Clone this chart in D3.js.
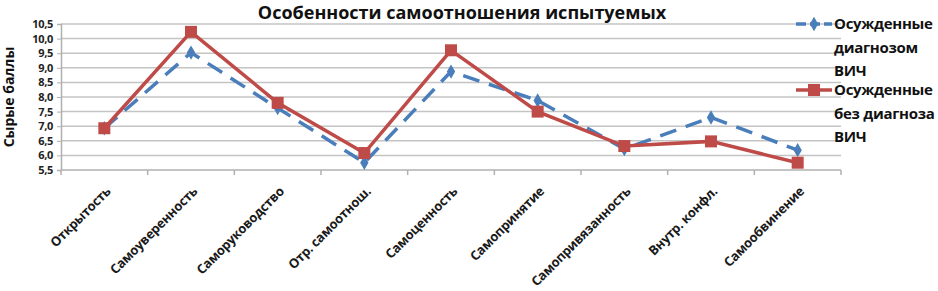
<!DOCTYPE html>
<html>
<head>
<meta charset="utf-8">
<script src="https://cdn.jsdelivr.net/npm/d3@7"></script>
<style>
  body { margin: 0; background: #fff; }
  text { font-family: "Open Sans", "Noto Sans", sans-serif; }
</style>
</head>
<body>
<svg id="chart" width="938" height="291"></svg>
<script>
const categories = [
  'Открытость', 'Самоуверенность', 'Саморуководство', 'Отр. самоотнош.',
  'Самоценность', 'Самопринятие', 'Самопривязанность', 'Внутр. конфл.', 'Самообвинение'
]
const hivValues = [6.93, 9.52, 7.62, 5.75, 8.87, 7.88, 6.22, 7.3, 6.18]
const noHivValues = [6.93, 10.23, 7.8, 6.08, 9.6, 7.5, 6.32, 6.48, 5.75]
const yTicks = [5.5, 6, 6.5, 7, 7.5, 8, 8.5, 9, 9.5, 10, 10.5]
const seriesNames = [
  ['Осужденные', 'диагнозом', 'ВИЧ'],
  ['Осужденные', 'без диагноза', 'ВИЧ']
]

const margin = { left: 61, right: 97, top: 24, bottom: 121 }
const width = 938 - margin.left - margin.right
const height = 291 - margin.top - margin.bottom

const svg = d3.select('#chart')
const g = svg.append('g').attr('transform', `translate(${margin.left},${margin.top})`)

const x = d3.scaleBand().domain(categories).range([0, width])
const y = d3.scaleLinear().domain([5.5, 10.5]).range([height, 0])

// horizontal grid
g.append('g')
  .selectAll('line')
  .data(yTicks.slice(1))
  .enter()
  .append('line')
  .attr('x1', 0)
  .attr('x2', width)
  .attr('y1', (d) => y(d))
  .attr('y2', (d) => y(d))
  .attr('stroke', '#c4c4c4')
  .attr('stroke-width', 1.5)

// y axis
const yAxis = g.append('g')
  .call(d3.axisLeft(y).tickValues(yTicks).tickSize(4).tickFormat((d) => d3.format('.1f')(d).replace('.', ',')))
yAxis.select('.domain').attr('stroke', '#b0b0b0').attr('stroke-width', 1.5)
yAxis.selectAll('line').attr('stroke', '#b0b0b0')
yAxis.selectAll('text')
  .attr('x', -8)
  .attr('font-size', '11px')
  .attr('font-weight', 'bold')
  .attr('fill', '#222')
  .attr('letter-spacing', '-0.3px')

// x axis with ticks at category boundaries
const xg = g.append('g').attr('transform', `translate(0,${height})`)
xg.append('line').attr('x1', 0).attr('x2', width).attr('stroke', '#b0b0b0').attr('stroke-width', 1.5)
xg.selectAll('.tick')
  .data(d3.range(categories.length + 1))
  .enter()
  .append('line')
  .attr('x1', (i) => i * x.bandwidth())
  .attr('x2', (i) => i * x.bandwidth())
  .attr('y1', 0)
  .attr('y2', 5)
  .attr('stroke', '#b0b0b0')
  .attr('stroke-width', 1.5)
xg.selectAll('.lbl')
  .data(categories)
  .enter()
  .append('text')
  .attr('transform', (d) => `translate(${x(d) + x.bandwidth() / 2 + 4},${19}) rotate(-45)`)
  .attr('text-anchor', 'end')
  .attr('dy', '0.35em')
  .attr('font-size', '13px')
  .attr('font-weight', 'bold')
  .attr('fill', '#1a1a1a')
  .attr('letter-spacing', '-0.3px')
  .text((d) => d)

const cx = (i) => x(categories[i]) + x.bandwidth() / 2
const line = d3.line().x((d, i) => cx(i)).y((d) => y(d))

// series: blue dashed with diamonds
g.append('path')
  .attr('d', line(hivValues))
  .attr('fill', 'none')
  .attr('stroke', '#4a7ebb')
  .attr('stroke-width', 3.5)
  .attr('stroke-dasharray', '17,10')
g.selectAll('.dia')
  .data(hivValues)
  .enter()
  .append('path')
  .attr('d', d3.symbol(d3.symbolDiamond, 60))
  .attr('transform', (d, i) => `translate(${cx(i)},${y(d)})`)
  .attr('fill', '#4a7ebb')

// series: red solid with squares
g.append('path')
  .attr('d', line(noHivValues))
  .attr('fill', 'none')
  .attr('stroke', '#be4b48')
  .attr('stroke-width', 3.5)
g.selectAll('.sq')
  .data(noHivValues)
  .enter()
  .append('rect')
  .attr('x', (d, i) => cx(i) - 6)
  .attr('y', (d) => y(d) - 6)
  .attr('width', 12)
  .attr('height', 12)
  .attr('fill', '#be4b48')

// title
svg.append('text')
  .attr('x', 462)
  .attr('y', 19)
  .attr('text-anchor', 'middle')
  .attr('font-size', '18px')
  .attr('font-weight', 'bold')
  .attr('fill', '#111')
  .text('Особенности самоотношения испытуемых')

// y axis title
svg.append('text')
  .attr('transform', 'translate(14,97) rotate(-90)')
  .attr('text-anchor', 'middle')
  .attr('font-size', '14px')
  .attr('font-weight', 'bold')
  .attr('fill', '#111')
  .text('Сырые баллы')

// legend
const legend = svg.append('g')
const legendTop = [24, 90]
const colors = ['#4a7ebb', '#be4b48']
seriesNames.forEach((lines, k) => {
  const ly = legendTop[k]
  legend.append('line')
    .attr('x1', 796).attr('x2', 832).attr('y1', ly).attr('y2', ly)
    .attr('stroke', colors[k]).attr('stroke-width', 3.5)
    .attr('stroke-dasharray', k === 0 ? '10,4' : null)
  if (k === 0) {
    legend.append('path')
      .attr('d', d3.symbol(d3.symbolDiamond, 60))
      .attr('transform', `translate(814,${ly})`)
      .attr('fill', colors[k])
  } else {
    legend.append('rect')
      .attr('x', 808).attr('y', ly - 6).attr('width', 12).attr('height', 12)
      .attr('fill', colors[k])
  }
  lines.forEach((t, j) => {
    legend.append('text')
      .attr('x', 834)
      .attr('y', ly + j * 23.5)
      .attr('dy', '0.35em')
      .attr('font-size', '15px')
      .attr('font-weight', 'bold')
      .attr('fill', '#111')
      .attr('letter-spacing', '-0.3px')
      .text(t)
  })
})
</script>
</body>
</html>
